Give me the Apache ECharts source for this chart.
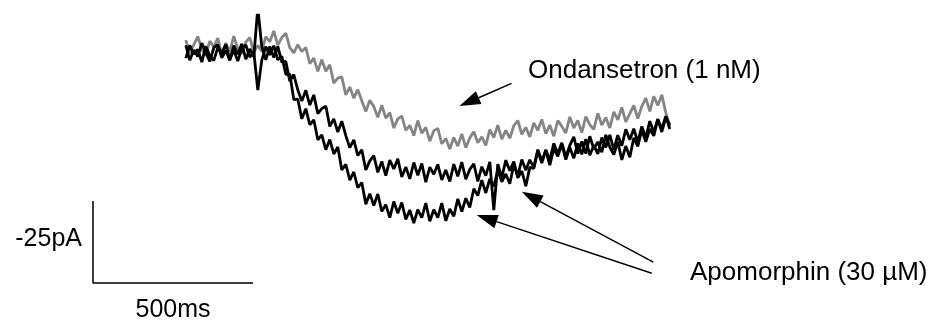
<!DOCTYPE html>
<html><head><meta charset="utf-8">
<script src="https://cdn.jsdelivr.net/npm/echarts@6/dist/echarts.min.js"></script>
<style>html,body{margin:0;padding:0;background:#fff}#c{width:932px;height:322px}</style>
</head><body><div id="c"></div>
<script>
// sampled current traces (pA), first sample at t0 (ms), sample spacing dt (ms)
const t0 = 290, dt = 12.5;
const ondansetron = [
2.4,-1.6,1.0,3.5,-0.5,-2.2,2.1,0.3,3.0,-2.0,1.5,-1.1,3.6,-0.2,-1.8,1.8,3.2,-1.3,0.8,-1.1,
3.5,1.9,5.2,0.9,3.2,4.5,0.1,-1.5,1.0,-1.1,0.2,-4.8,-3.1,-7.1,-3.6,-7.1,-5.1,-10.7,-9.2,-8.8,
-14.3,-11.9,-15.3,-12.7,-16.1,-19.4,-15.9,-17.8,-21.1,-17.4,-21.4,-19.7,-24.4,-21.6,-20.8,-25.1,-23.6,-26.7,-22.1,-26.0,
-24.2,-28.4,-25.2,-24.5,-29.2,-27.6,-30.8,-27.3,-29.9,-26.2,-30.4,-27.4,-25.5,-28.9,-27.1,-29.7,-24.9,-27.3,-23.5,-27.8,
-25.1,-27.5,-23.7,-22.1,-26.3,-24.2,-27.1,-22.8,-25.1,-21.8,-26.1,-23.5,-26.9,-22.1,-23.9,-25.9,-21.0,-24.4,-22.1,-25.8,
-20.9,-23.4,-24.8,-19.9,-23.5,-21.2,-24.4,-19.5,-21.9,-18.1,-22.5,-20.0,-17.5,-21.5,-17.8,-15.3,-19.3,-14.7,-17.5,-14.3,
-19.7,-23.8];
const apomorphinA = [
0.8,-3.7,-0.6,-2.6,1.5,-1.4,-4.1,0.1,1.0,-3.0,-0.7,-3.8,0.7,-1.9,1.3,-3.4,-0.3,-2.7,12.2,0.4,
-3.6,0.5,-2.9,0.5,-4.3,-4.1,-10.1,-8.1,-12.8,-16.2,-12.9,-17.4,-14.3,-20.0,-18.5,-17.7,-23.9,-21.6,-25.6,-22.3,
-26.7,-30.4,-28.0,-32.8,-31.0,-37.2,-34.4,-32.8,-37.9,-34.6,-38.9,-34.2,-36.9,-33.8,-39.3,-36.3,-39.9,-34.9,-38.8,-35.2,
-40.9,-36.3,-38.5,-35.5,-40.2,-37.2,-40.7,-35.4,-39.1,-34.8,-40.0,-37.0,-35.3,-40.7,-36.2,-38.9,-34.7,-49.4,-35.4,-39.5,
-34.2,-37.4,-34.6,-39.6,-37.5,-42.1,-36.4,-36.7,-31.4,-35.1,-31.0,-34.2,-29.1,-32.2,-28.9,-33.2,-29.7,-27.1,-32.2,-28.5,
-32.2,-26.9,-30.8,-28.6,-31.8,-26.5,-30.2,-32.5,-28.6,-34.1,-29.9,-33.3,-27.4,-30.0,-25.0,-28.6,-24.7,-26.8,-21.7,-24.6,
-20.8,-24.7];
const apomorphinB = [
-3.1,0.8,-1.9,-0.4,-4.3,0.5,-2.4,-3.8,0.2,-1.6,1.1,-3.5,-0.7,-4.0,-0.1,0.9,-2.8,-1.2,-12.8,-3.7,
0.4,-2.1,0.7,-3.6,-2.5,-8.0,-8.0,-15.7,-15.6,-21.6,-18.5,-23.4,-21.9,-28.0,-26.5,-31.0,-27.9,-32.3,-30.2,-37.2,
-35.5,-40.3,-37.8,-42.6,-41.0,-47.6,-44.4,-48.0,-44.5,-49.8,-47.8,-51.7,-46.8,-50.4,-47.1,-52.3,-49.4,-53.4,-49.3,-51.7,
-47.3,-52.8,-49.3,-51.7,-47.3,-52.7,-49.1,-51.3,-46.0,-49.9,-45.8,-48.6,-42.9,-45.0,-40.3,-44.2,-39.9,-42.2,-37.2,-40.8,
-38.4,-41.4,-35.5,-39.0,-34.0,-37.3,-34.1,-36.4,-31.0,-34.4,-31.3,-35.7,-30.7,-33.0,-29.4,-34.0,-30.3,-33.6,-29.1,-32.4,
-27.8,-32.7,-29.7,-32.3,-27.3,-30.3,-26.5,-31.0,-26.6,-29.8,-24.8,-28.0,-24.6,-28.7,-23.9,-27.3,-22.3,-25.7,-21.7,-25.6,
-21.1,-23.4];
// scale bars
const scaleBarMs = 500, scaleBarPA = 25;
const scaleLabels = ['-25pA', '500ms'];
const annotationLabels = ['Ondansetron (1 nM)', 'Apomorphin (30 \u00b5M)'];
// arrows: [from t, from pA, tip t, tip pA]
const arrowLines = [
  [1308, -10.8, 1145, -17.7],
  [1746, -68.7, 1199, -50.9],
  [1751, -65.3, 1340, -43.8]
];

const toXY = arr => arr.map((v, i) => [t0 + i * dt, v]);
const sbX = 0, sbY = -71.65;

const chart = echarts.init(document.getElementById('c'), null, {renderer: 'canvas'});
const font = "'Liberation Sans', Arial, sans-serif";
chart.setOption({
  animation: false,
  grid: {left: 93, width: 640, top: 15.2, height: 295.2},
  xAxis: {type: 'value', min: 0, max: 2000, show: false},
  yAxis: {type: 'value', min: -80, max: 10, show: false},
  series: [
    {type: 'line', data: toXY(ondansetron), showSymbol: false, lineStyle: {color: '#858585', width: 2.8}, z: 2},
    {type: 'line', data: toXY(apomorphinA), showSymbol: false, lineStyle: {color: '#000', width: 2.8}, z: 3},
    {type: 'line', data: toXY(apomorphinB), showSymbol: false, lineStyle: {color: '#000', width: 2.8}, z: 3},
    {type: 'line', data: [[sbX, sbY + scaleBarPA], [sbX, sbY], [sbX + scaleBarMs, sbY]], showSymbol: false,
     lineStyle: {color: '#000', width: 1.5}, z: 4}
  ]
});

const g = [];
arrowLines.forEach(a => {
  const p0 = chart.convertToPixel({gridIndex: 0}, [a[0], a[1]]);
  const p1 = chart.convertToPixel({gridIndex: 0}, [a[2], a[3]]);
  const dx = p0[0] - p1[0], dy = p0[1] - p1[1];
  const len = Math.hypot(dx, dy), ux = dx / len, uy = dy / len;
  const L = 21, w = 7;
  const bx = p1[0] + ux * L, by = p1[1] + uy * L;
  g.push({type: 'line', shape: {x1: p0[0], y1: p0[1], x2: bx, y2: by}, style: {stroke: '#000', lineWidth: 1.5}, z: 10});
  g.push({type: 'polygon', shape: {points: [[p1[0], p1[1]], [bx - uy * w, by + ux * w], [bx + uy * w, by - ux * w]]},
          style: {fill: '#000'}, z: 10});
});
g.push({type: 'text', x: 528, y: 71, style: {text: annotationLabels[0], font: '26px ' + font, fill: '#000', verticalAlign: 'middle'}, z: 10});
g.push({type: 'text', x: 690, y: 273, style: {text: annotationLabels[1], font: '26px ' + font, fill: '#000', verticalAlign: 'middle'}, z: 10});
g.push({type: 'text', x: 82, y: 239, style: {text: scaleLabels[0], font: '25px ' + font, fill: '#000', align: 'right', verticalAlign: 'middle'}, z: 10});
g.push({type: 'text', x: 173, y: 310, style: {text: scaleLabels[1], font: '25px ' + font, fill: '#000', align: 'center', verticalAlign: 'middle'}, z: 10});
chart.setOption({graphic: g});
</script>
</body></html>
